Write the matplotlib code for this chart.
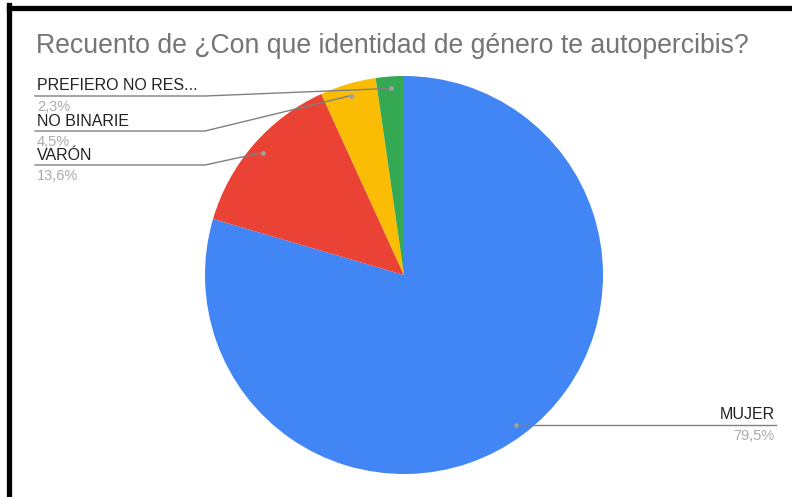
import numpy as np
import matplotlib.pyplot as plt
from matplotlib.lines import Line2D

plt.rcParams["font.family"] = ["Liberation Sans", "DejaVu Sans"]

# respuestas por identidad de género
categorias = ["MUJER", "VARÓN", "NO BINARIE", "PREFIERO NO RES..."]
respuestas = [35, 6, 2, 1]
colores = ["#4285F4", "#EA4335", "#FBBC04", "#34A853"]

W, H = 792, 497
fig = plt.figure(figsize=(W / 100, H / 100), dpi=100)

# eje de apoyo en pixeles para textos y guias
over = fig.add_axes([0, 0, 1, 1], zorder=3)
over.set_xlim(0, W)
over.set_ylim(H, 0)
over.axis("off")

cx, cy, r = 404, 275, 199
ax = fig.add_axes([(cx - r) / W, (H - cy - r) / H, 2 * r / W, 2 * r / H])
wedges, _ = ax.pie(respuestas, colors=colores, startangle=90, counterclock=False,
                   radius=1, wedgeprops=dict(linewidth=0))
ax.set_xlim(-1, 1)
ax.set_ylim(-1, 1)
ax.set_aspect("auto")
ax.axis("off")

over.text(36, 53, "Recuento de ¿Con que identidad de género te autopercibis?",
          fontsize=19.2, color="#757575", va="baseline", ha="left")

total = sum(respuestas)
pct = [f"{v / total * 100:.1f}%".replace(".", ",") for v in respuestas]

fig.canvas.draw()
to_px = ax.transData + over.transData.inverted()


def punto(w):
    ang = np.deg2rad((w.theta1 + w.theta2) / 2)
    return to_px.transform((0.94 * np.cos(ang), 0.94 * np.sin(ang)))


gris = "#808080"
fs = 11.5
# etiquetas de la izquierda: linea bajo el nombre, porcentaje debajo
lineas_y = {1: 165, 2: 131, 3: 96}
for i, ly in lineas_y.items():
    px, py = punto(wedges[i])
    over.add_line(Line2D([35, 205, px], [ly, ly, py], color=gris, lw=1))
    over.plot(px, py, "o", ms=3.5, color="#a0a0a0", mec="none")
    over.text(37, ly - 2.5, categorias[i], fontsize=fs, color="#222222",
              ha="left", va="bottom")
    over.text(37, ly + 15, pct[i], fontsize=10.5, color="#ababab",
              ha="left", va="baseline")

# etiqueta de la derecha
px, py = punto(wedges[0])
over.add_line(Line2D([px, 776], [py, py], color=gris, lw=1))
over.plot(px, py, "o", ms=3.5, color="#a0a0a0", mec="none")
over.text(775, py - 2.5, categorias[0], fontsize=fs, color="#222222",
          ha="right", va="bottom")
over.text(775, py + 15, pct[0], fontsize=10.5, color="#ababab",
          ha="right", va="baseline")

# marco negro del recorte
fig.add_artist(Line2D([8.5 / W, 8.5 / W], [0, 1 - 5 / H], color="black", lw=3.8,
                      solid_capstyle="projecting"))
fig.add_artist(Line2D([8.5 / W, 1], [1 - 7.5 / H, 1 - 7.5 / H], color="black", lw=3.8,
                      solid_capstyle="projecting"))

fig.savefig("out.png", dpi=100)
